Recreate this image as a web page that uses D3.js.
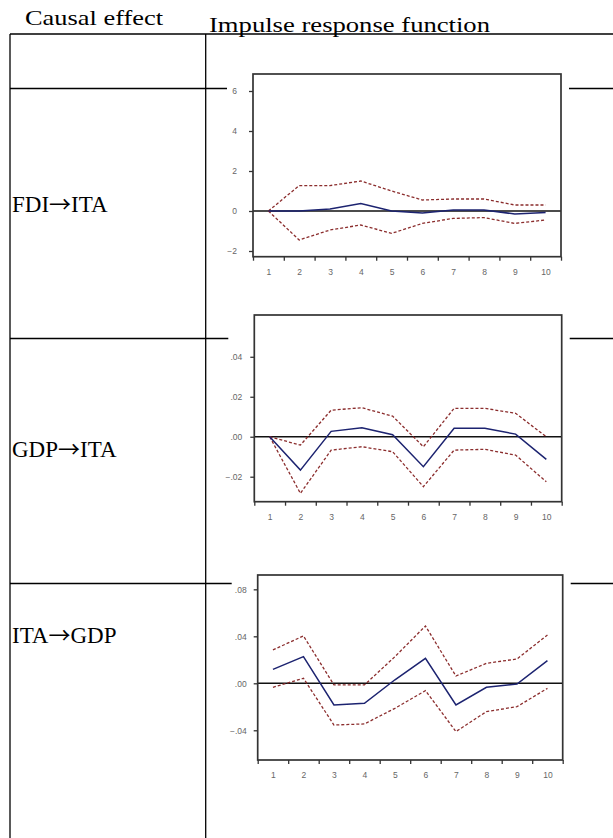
<!DOCTYPE html>
<html>
<head>
<meta charset="utf-8">
<script src="https://d3js.org/d3.v7.min.js"></script>
<style>
  body { margin: 0; background: #fff; }
  svg { display: block; }
</style>
</head>
<body>
<div id="chart"></div>
<script>
// periods of the impulse response
var periods = [1, 2, 3, 4, 5, 6, 7, 8, 9, 10];

// FDI -> ITA (response, +/- 2 s.e.)
var fdiIta      = [0, 0, 0.1, 0.38, 0.0, -0.1, 0.05, 0.05, -0.15, -0.08];
var fdiItaUpper = [0, 1.27, 1.27, 1.5, 1.0, 0.55, 0.6, 0.6, 0.3, 0.3];
var fdiItaLower = [0, -1.45, -0.95, -0.7, -1.12, -0.62, -0.37, -0.33, -0.62, -0.45];
var fdiDomain = [-2.285, 6.85];
var fdiTicks = [-2, 0, 2, 4, 6];

// GDP -> ITA
var gdpIta      = [0, -0.0167, 0.0027, 0.0045, 0.001, -0.015, 0.0042, 0.0042, 0.0013, -0.0113];
var gdpItaUpper = [0, -0.0042, 0.0133, 0.0145, 0.0103, -0.005, 0.0142, 0.0142, 0.0117, 0.0];
var gdpItaLower = [0, -0.0283, -0.0067, -0.005, -0.0075, -0.025, -0.0067, -0.0063, -0.0092, -0.0225];
var gdpDomain = [-0.0325, 0.0609];
var gdpTicks = [-0.02, 0, 0.02, 0.04];

// ITA -> GDP
var itaGdp      = [0.0119, 0.0227, -0.0184, -0.017, 0.003, 0.0213, -0.0184, -0.0034, -0.0006, 0.0193];
var itaGdpUpper = [0.0284, 0.0403, -0.0014, -0.0014, 0.0227, 0.0488, 0.0062, 0.017, 0.0207, 0.0411];
var itaGdpLower = [-0.0034, 0.0043, -0.0355, -0.0346, -0.0213, -0.0062, -0.0411, -0.0241, -0.0199, -0.0043];
var itaDomain = [-0.0653, 0.0922];
var itaTicks = [-0.04, 0, 0.04, 0.08];

// row labels: [cause, effect]
var rowLabels = [["FDI", "ITA"], ["GDP", "ITA"], ["ITA", "GDP"]];

var width = 613, height = 838;

var svg = d3.select("#chart").append("svg")
    .attr("width", width)
    .attr("height", height);

svg.append("rect").attr("width", width).attr("height", height).attr("fill", "#fff");

var serif = "'Liberation Serif', 'Times New Roman', Times, serif";
var cjk = "'Noto Sans CJK SC', 'Liberation Serif', serif";

// column headers
svg.append("text")
    .attr("x", 25).attr("y", 25)
    .attr("font-family", serif).attr("font-size", 22)
    .attr("textLength", 138).attr("lengthAdjust", "spacingAndGlyphs")
    .text("Causal effect");
svg.append("text")
    .attr("x", 209).attr("y", 32)
    .attr("font-family", serif).attr("font-size", 22)
    .attr("textLength", 281).attr("lengthAdjust", "spacingAndGlyphs")
    .text("Impulse response function");

// table grid
var grid = svg.append("g").attr("stroke", "#000").attr("stroke-width", 1.3);
grid.append("line").attr("x1", 10).attr("x2", width).attr("y1", 34).attr("y2", 34);
grid.append("line").attr("x1", 10).attr("x2", 10).attr("y1", 34).attr("y2", height);
grid.append("line").attr("x1", 205.7).attr("x2", 205.7).attr("y1", 34).attr("y2", height);
[88.5, 338.5, 583.5].forEach(function(yy) {
  grid.append("line").attr("x1", 10).attr("x2", width).attr("y1", yy).attr("y2", yy);
});

function decFmt(v) {
  // eviews style: .04, .00, -.02
  return d3.format(".2f")(v).replace("0.", ".");
}

var charts = [
  {mid: fdiIta, upper: fdiItaUpper, lower: fdiItaLower, domain: fdiDomain, ticks: fdiTicks,
   fmt: d3.format("d"), pad: 12, box: [253, 74, 561, 256.7], labelY: 211.7},
  {mid: gdpIta, upper: gdpItaUpper, lower: gdpItaLower, domain: gdpDomain, ticks: gdpTicks,
   fmt: decFmt, pad: 8, box: [254.3, 315, 561.7, 501.7], labelY: 457},
  {mid: itaGdp, upper: itaGdpUpper, lower: itaGdpLower, domain: itaDomain, ticks: itaTicks,
   fmt: decFmt, pad: 7, box: [257.7, 575, 562.7, 760], labelY: 643}
];

charts.forEach(function(c, i) {
  var t = svg.append("text")
      .attr("x", 12).attr("y", c.labelY)
      .attr("font-family", serif).attr("font-size", 23);
  t.append("tspan").text(rowLabels[i][0]);
  t.append("tspan").attr("font-family", cjk).attr("font-size", 22).text("\u2192");
  t.append("tspan").text(rowLabels[i][1]);
  drawIrf(c);
});

function drawIrf(c) {
  var L = c.box[0], T = c.box[1], R = c.box[2], B = c.box[3];
  var x = d3.scaleLinear().domain([0.5, 10.5]).range([L, R]);
  var y = d3.scaleLinear().domain(c.domain).range([B, T]);

  var g = svg.append("g");

  // the pasted picture hides the table rule
  g.append("rect")
      .attr("x", L - 26).attr("y", T - 12)
      .attr("width", R - L + 34).attr("height", B - T + 34)
      .attr("fill", "#fff");

  var ay = g.append("g")
      .attr("transform", "translate(" + L + ",0)")
      .call(d3.axisLeft(y).tickValues(c.ticks).tickSize(4).tickPadding(c.pad).tickFormat(c.fmt));
  ay.select(".domain").remove();
  ay.selectAll("line").attr("stroke", "#333").attr("stroke-width", 1.3);
  ay.selectAll("text").attr("fill", "#666").attr("font-size", 8.5)
      .attr("font-family", "'Liberation Sans', Arial, sans-serif");

  var ticks = d3.axisBottom(x).tickValues(d3.range(0.5, 10.6, 1)).tickSize(4).tickFormat("");
  var ax = g.append("g").attr("transform", "translate(0," + B + ")").call(ticks);
  ax.select(".domain").remove();
  ax.selectAll("line").attr("stroke", "#333").attr("stroke-width", 1.3);

  var labels = g.append("g").attr("transform", "translate(0," + B + ")")
      .call(d3.axisBottom(x).tickValues(periods).tickSize(0).tickPadding(12));
  labels.select(".domain").remove();
  labels.selectAll("text").attr("fill", "#666").attr("font-size", 8.5)
      .attr("font-family", "'Liberation Sans', Arial, sans-serif");

  // zero line
  g.append("line")
      .attr("x1", L).attr("x2", R)
      .attr("y1", y(0)).attr("y2", y(0))
      .attr("stroke", "#111").attr("stroke-width", 1.6);

  var line = d3.line()
      .x(function(d, k) { return x(periods[k]); })
      .y(function(d) { return y(d); });

  [c.upper, c.lower].forEach(function(s) {
    g.append("path")
        .attr("d", line(s))
        .attr("fill", "none")
        .attr("stroke", "#8b2d2d")
        .attr("stroke-width", 1.3)
        .attr("stroke-dasharray", "3,2");
  });

  g.append("path")
      .attr("d", line(c.mid))
      .attr("fill", "none")
      .attr("stroke", "#1c2370")
      .attr("stroke-width", 1.5);

  g.append("rect")
      .attr("x", L).attr("y", T)
      .attr("width", R - L).attr("height", B - T)
      .attr("fill", "none")
      .attr("stroke", "#333")
      .attr("stroke-width", 1.7);
}
</script>
</body>
</html>
